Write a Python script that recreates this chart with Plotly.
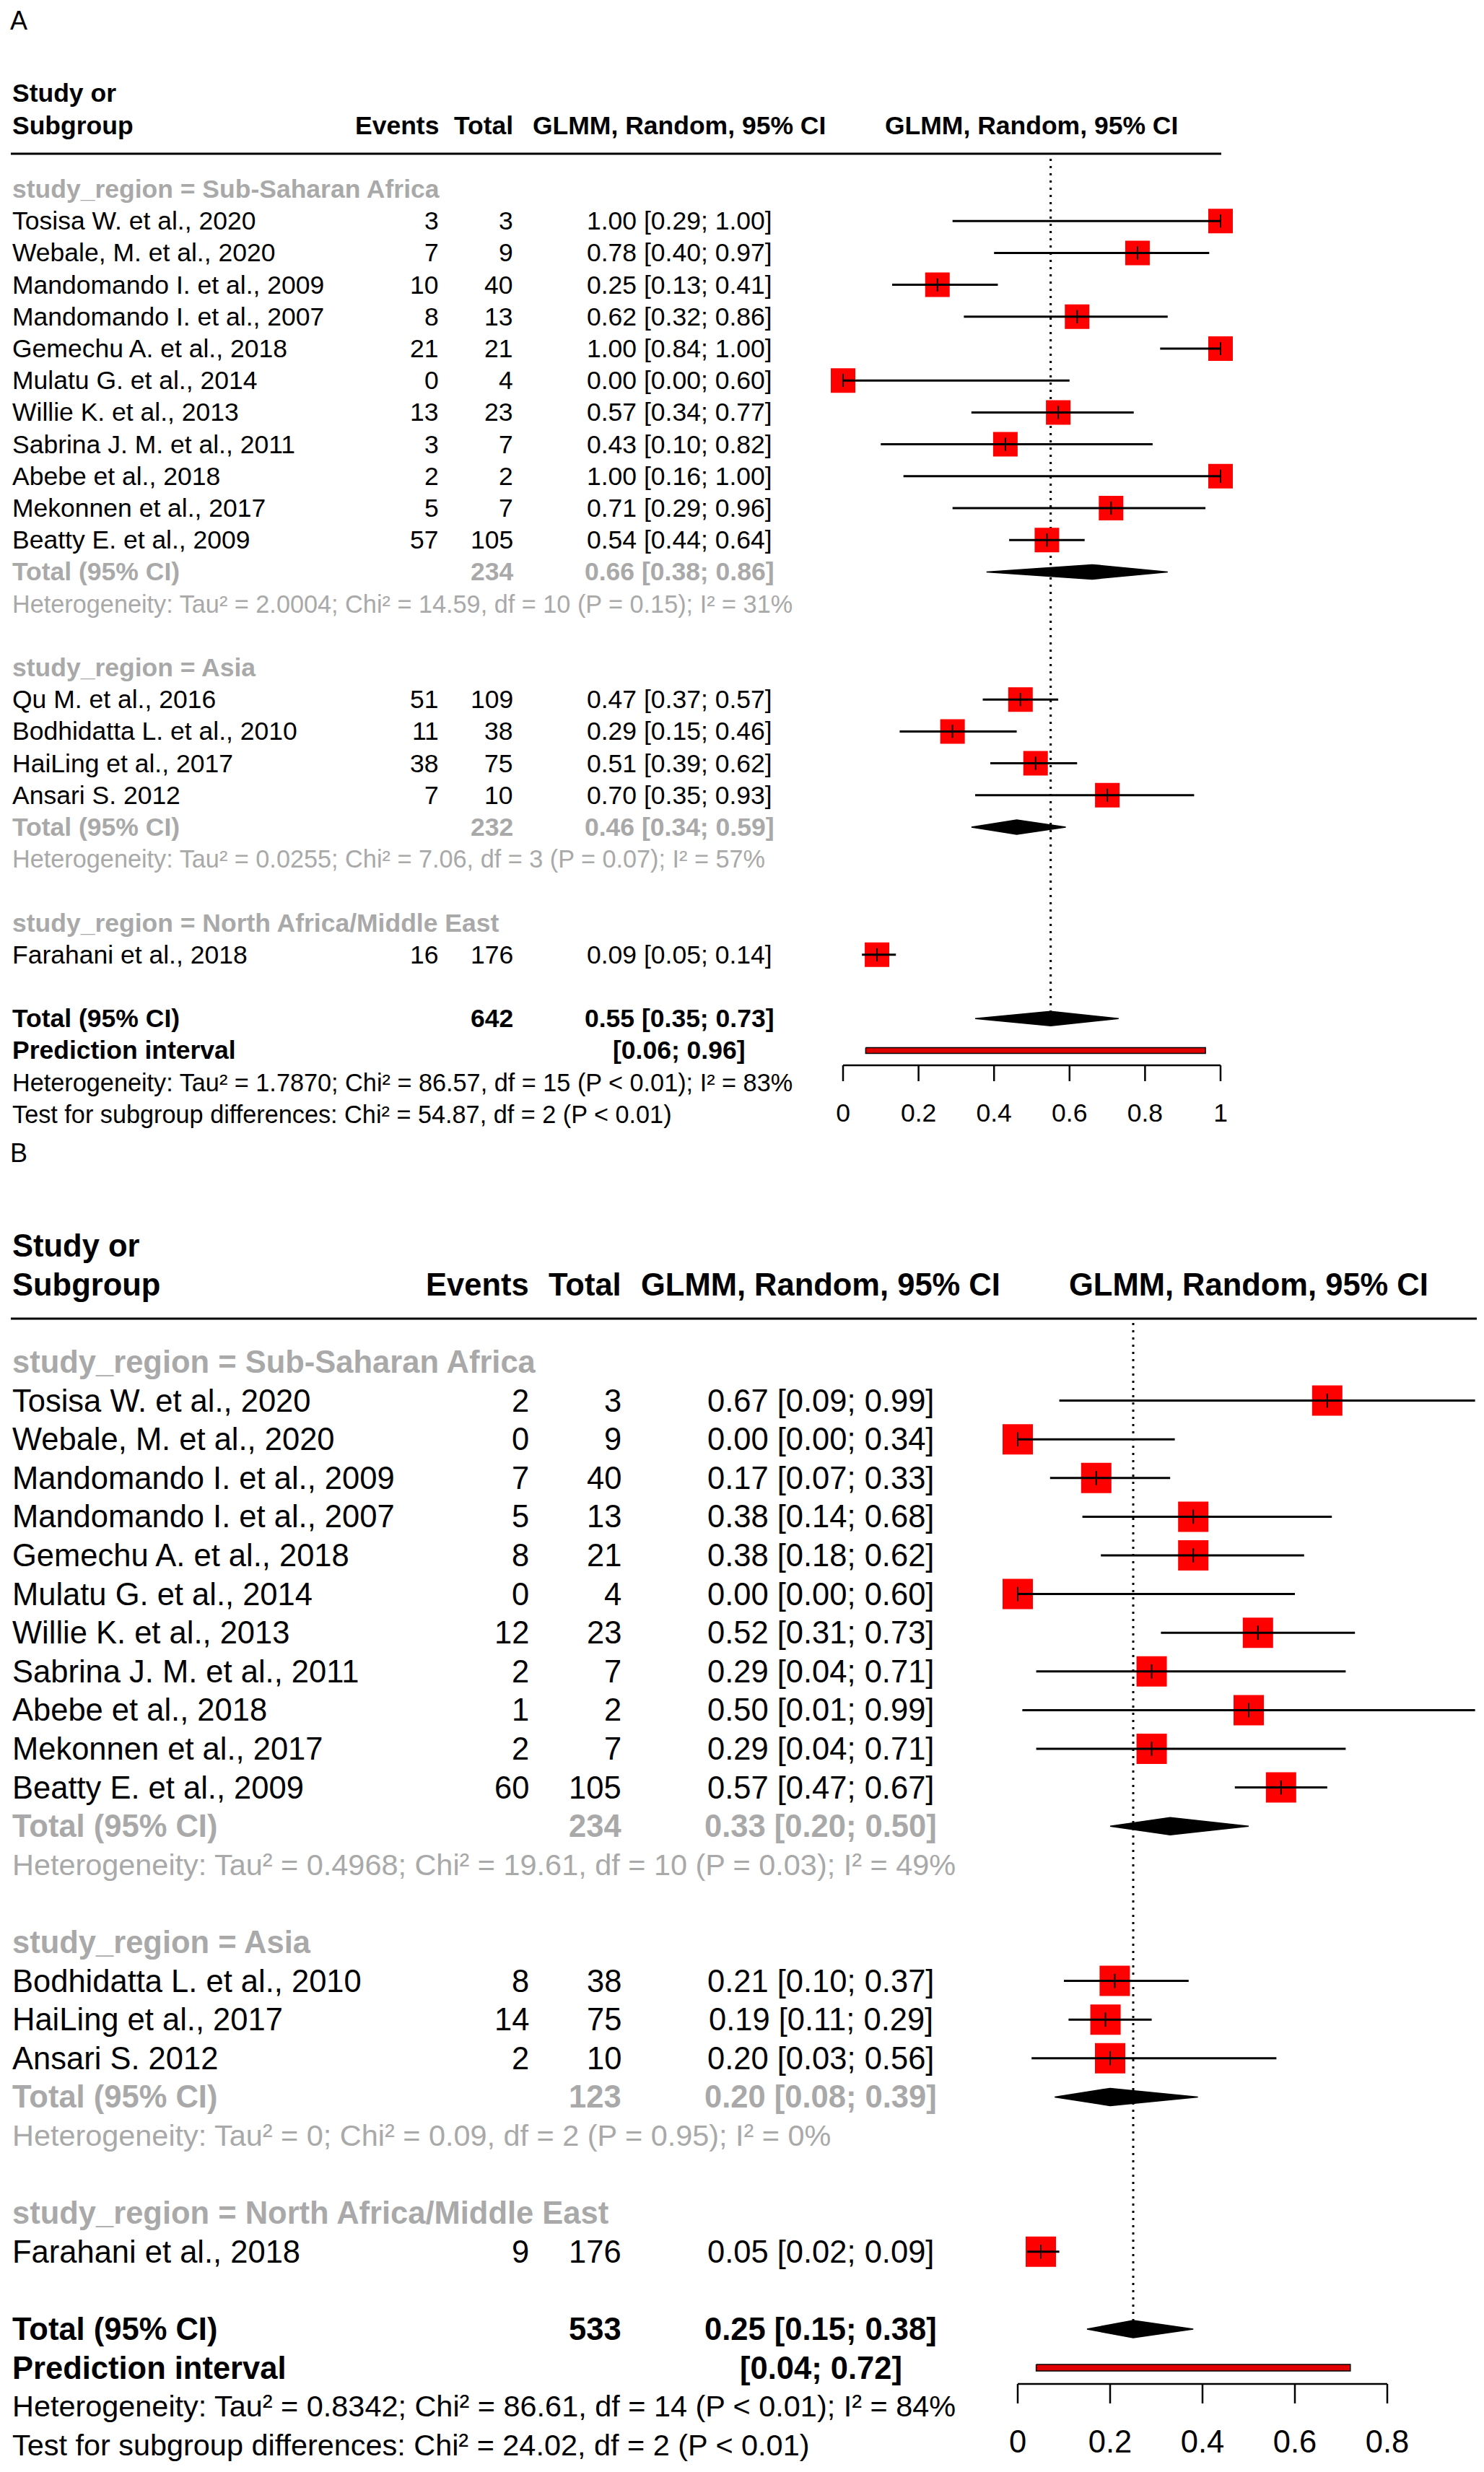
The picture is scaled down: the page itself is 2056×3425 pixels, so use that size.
import plotly.graph_objects as go

W, H = 2056, 3425
FONT = "Liberation Sans, Arial, Helvetica, sans-serif"
BLACK = "#000000"
GREY = "#A9A9A9"
RED = "#FF0000"

# ======================= Panel A data =======================
A_ssa_names = ["Tosisa W. et al., 2020", "Webale, M. et al., 2020", "Mandomando I. et al., 2009",
               "Mandomando I. et al., 2007", "Gemechu A. et al., 2018", "Mulatu G. et al., 2014",
               "Willie K. et al., 2013", "Sabrina J. M. et al., 2011", "Abebe et al., 2018",
               "Mekonnen et al., 2017", "Beatty E. et al., 2009"]
A_ssa_events = [3, 7, 10, 8, 21, 0, 13, 3, 2, 5, 57]
A_ssa_totals = [3, 9, 40, 13, 21, 4, 23, 7, 2, 7, 105]
A_ssa_est = [1.00, 0.78, 0.25, 0.62, 1.00, 0.00, 0.57, 0.43, 1.00, 0.71, 0.54]
A_ssa_lo = [0.29, 0.40, 0.13, 0.32, 0.84, 0.00, 0.34, 0.10, 0.16, 0.29, 0.44]
A_ssa_hi = [1.00, 0.97, 0.41, 0.86, 1.00, 0.60, 0.77, 0.82, 1.00, 0.96, 0.64]

A_asia_names = ["Qu M. et al., 2016", "Bodhidatta L. et al., 2010", "HaiLing et al., 2017", "Ansari S. 2012"]
A_asia_events = [51, 11, 38, 7]
A_asia_totals = [109, 38, 75, 10]
A_asia_est = [0.47, 0.29, 0.51, 0.70]
A_asia_lo = [0.37, 0.15, 0.39, 0.35]
A_asia_hi = [0.57, 0.46, 0.62, 0.93]

A_name_names = ["Farahani et al., 2018"]
A_name_events = [16]
A_name_totals = [176]
A_name_est = [0.09]
A_name_lo = [0.05]
A_name_hi = [0.14]

A_sub_labels = ["Sub-Saharan Africa", "Asia", "North Africa/Middle East"]
A_sub_n = [234, 232, None]
A_sub_est = [0.66, 0.46, None]
A_sub_lo = [0.38, 0.34, None]
A_sub_hi = [0.86, 0.59, None]
A_sub_tau2 = ["2.0004", "0.0255", None]
A_sub_chi2 = ["14.59", "7.06", None]
A_sub_df = [10, 3, None]
A_sub_p = ["= 0.15", "= 0.07", None]
A_sub_i2 = [31, 57, None]

A_total_n = 642
A_total_est, A_total_lo, A_total_hi = 0.55, 0.35, 0.73
A_pred_lo, A_pred_hi = 0.06, 0.96
A_tau2, A_chi2, A_df, A_p, A_i2 = "1.7870", "86.57", 15, "< 0.01", 83
A_test_chi2, A_test_df, A_test_p = "54.87", 2, "< 0.01"
A_ticks = [0, 0.2, 0.4, 0.6, 0.8, 1]
A_ticklabels = ["0", "0.2", "0.4", "0.6", "0.8", "1"]

# ======================= Panel B data =======================
B_ssa_names = ["Tosisa W. et al., 2020", "Webale, M. et al., 2020", "Mandomando I. et al., 2009",
               "Mandomando I. et al., 2007", "Gemechu A. et al., 2018", "Mulatu G. et al., 2014",
               "Willie K. et al., 2013", "Sabrina J. M. et al., 2011", "Abebe et al., 2018",
               "Mekonnen et al., 2017", "Beatty E. et al., 2009"]
B_ssa_events = [2, 0, 7, 5, 8, 0, 12, 2, 1, 2, 60]
B_ssa_totals = [3, 9, 40, 13, 21, 4, 23, 7, 2, 7, 105]
B_ssa_est = [0.67, 0.00, 0.17, 0.38, 0.38, 0.00, 0.52, 0.29, 0.50, 0.29, 0.57]
B_ssa_lo = [0.09, 0.00, 0.07, 0.14, 0.18, 0.00, 0.31, 0.04, 0.01, 0.04, 0.47]
B_ssa_hi = [0.99, 0.34, 0.33, 0.68, 0.62, 0.60, 0.73, 0.71, 0.99, 0.71, 0.67]

B_asia_names = ["Bodhidatta L. et al., 2010", "HaiLing et al., 2017", "Ansari S. 2012"]
B_asia_events = [8, 14, 2]
B_asia_totals = [38, 75, 10]
B_asia_est = [0.21, 0.19, 0.20]
B_asia_lo = [0.10, 0.11, 0.03]
B_asia_hi = [0.37, 0.29, 0.56]

B_name_names = ["Farahani et al., 2018"]
B_name_events = [9]
B_name_totals = [176]
B_name_est = [0.05]
B_name_lo = [0.02]
B_name_hi = [0.09]

B_sub_labels = ["Sub-Saharan Africa", "Asia", "North Africa/Middle East"]
B_sub_n = [234, 123, None]
B_sub_est = [0.33, 0.20, None]
B_sub_lo = [0.20, 0.08, None]
B_sub_hi = [0.50, 0.39, None]
B_sub_tau2 = ["0.4968", "0", None]
B_sub_chi2 = ["19.61", "0.09", None]
B_sub_df = [10, 2, None]
B_sub_p = ["= 0.03", "= 0.95", None]
B_sub_i2 = [49, 0, None]

B_total_n = 533
B_total_est, B_total_lo, B_total_hi = 0.25, 0.15, 0.38
B_pred_lo, B_pred_hi = 0.04, 0.72
B_tau2, B_chi2, B_df, B_p, B_i2 = "0.8342", "86.61", 14, "< 0.01", 84
B_test_chi2, B_test_df, B_test_p = "24.02", 2, "< 0.01"
B_ticks = [0, 0.2, 0.4, 0.6, 0.8]
B_ticklabels = ["0", "0.2", "0.4", "0.6", "0.8"]

# ======================= layout geometry (pixels) =======================
GEO_A = dict(letter="A", xa="x", ya="y", dom=(0, 1580), y0=262, d=44.2, x0=1168, xs=523,
             fs=35.5, stat=0.965, sq=34, tick=13, dia=10, pred=4, axis_px=1476, tickbot_px=1498,
             label_px=1545, name_x=15, ev_r=610, tot_r=713, ci_c=941, h2_c=1429,
             hdr_px=213, hdr_end_px=1692, dot_top_px=220, letter_xy=(12, 28))
GEO_B = dict(letter="B", xa="x2", ya="y2", dom=(1580, 3425), y0=1887, d=53.6, x0=1410, xs=640,
             fs=43.5, stat=0.952, sq=42, tick=14, dia=12, pred=4.5, axis_px=3303, tickbot_px=3330,
             label_px=3387, name_x=15, ev_r=735, tot_r=863, ci_c=1137, h2_c=1730,
             hdr_px=1827, hdr_end_px=2046, dot_top_px=1833, letter_xy=(12, 1598))


def ci_text(e, l, h):
    return f"{e:.2f} [{l:.2f}; {h:.2f}]"


def het_text(tau2, chi2, df, p, i2):
    return (f"Heterogeneity: Tau\u00b2 = {tau2}; Chi\u00b2 = {chi2}, "
            f"df = {df} (P {p}); I\u00b2 = {i2}%")


traces, annotations, shapes = [], [], []


def build_panel(g, groups, sub, overall, ticks, ticklabels):
    xa, ya = g["xa"], g["ya"]
    row_of = lambda p: (p - g["y0"]) / g["d"]
    fs = g["fs"]
    sfs = fs * g["stat"]

    def txt(text, xpx, row, anchor, color=BLACK, bold=False, size=None):
        annotations.append(dict(
            text=text, x=xpx / W, xref="paper", y=row, yref=ya,
            xanchor=anchor, yanchor="middle", showarrow=False,
            font=dict(family=FONT, size=size or fs, color=color,
                      weight=700 if bold else 400)))

    # headers
    lx, ly = g["letter_xy"]
    txt(g["letter"], lx, row_of(ly), "left", size=36)
    txt("Study or", g["name_x"], -3, "left", bold=True)
    txt("Subgroup", g["name_x"], -2, "left", bold=True)
    txt("Events", g["ev_r"], -2, "right", bold=True)
    txt("Total", g["tot_r"], -2, "right", bold=True)
    txt("GLMM, Random, 95% CI", g["ci_c"], -2, "center", bold=True)
    txt("GLMM, Random, 95% CI", g["h2_c"], -2, "center", bold=True)
    shapes.append(dict(type="line", xref="paper", yref=ya, x0=g["name_x"] / W, x1=g["hdr_end_px"] / W,
                       y0=row_of(g["hdr_px"]), y1=row_of(g["hdr_px"]),
                       line=dict(color=BLACK, width=3)))

    sq_x, sq_y, ci_x, ci_y = [], [], [], []
    diamonds = []
    r = 0
    for gi, (names, ev, tot, est, lo, hi) in enumerate(groups):
        txt(f"study_region = {sub['labels'][gi]}", g["name_x"], r, "left", color=GREY, bold=True)
        r += 1
        for k in range(len(names)):
            txt(names[k], g["name_x"], r, "left")
            txt(str(ev[k]), g["ev_r"], r, "right")
            txt(str(tot[k]), g["tot_r"], r, "right")
            txt(ci_text(est[k], lo[k], hi[k]), g["ci_c"], r, "center")
            sq_x.append(est[k]); sq_y.append(r)
            ci_x += [lo[k], hi[k], None]; ci_y += [r, r, None]
            r += 1
        if sub["n"][gi] is not None:
            txt("Total (95% CI)", g["name_x"], r, "left", color=GREY, bold=True)
            txt(str(sub["n"][gi]), g["tot_r"], r, "right", color=GREY, bold=True)
            txt(ci_text(sub["est"][gi], sub["lo"][gi], sub["hi"][gi]), g["ci_c"], r, "center",
                color=GREY, bold=True)
            diamonds.append((sub["est"][gi], sub["lo"][gi], sub["hi"][gi], r))
            r += 1
            txt(het_text(sub["tau2"][gi], sub["chi2"][gi], sub["df"][gi], sub["p"][gi], sub["i2"][gi]),
                g["name_x"], r, "left", color=GREY, size=sfs)
            r += 1
        r += 1
    # overall
    tot_row = r
    txt("Total (95% CI)", g["name_x"], r, "left", bold=True)
    txt(str(overall["n"]), g["tot_r"], r, "right", bold=True)
    txt(ci_text(overall["est"], overall["lo"], overall["hi"]), g["ci_c"], r, "center", bold=True)
    diamonds.append((overall["est"], overall["lo"], overall["hi"], r))
    r += 1
    pred_row = r
    txt("Prediction interval", g["name_x"], r, "left", bold=True)
    txt(f"[{overall['plo']:.2f}; {overall['phi']:.2f}]", g["ci_c"], r, "center", bold=True)
    r += 1
    txt(het_text(overall["tau2"], overall["chi2"], overall["df"], overall["p"], overall["i2"]),
        g["name_x"], r, "left", size=sfs)
    r += 1
    txt(f"Test for subgroup differences: Chi\u00b2 = {overall['tchi2']}, df = {overall['tdf']} "
        f"(P {overall['tp']})", g["name_x"], r, "left", size=sfs)

    dh = g["dia"] / g["d"]
    # dotted reference line at overall estimate
    traces.append(go.Scatter(x=[overall["est"], overall["est"]],
                             y=[row_of(g["dot_top_px"]), tot_row - dh],
                             mode="lines", line=dict(color=BLACK, width=3, dash="3px,7px"),
                             xaxis=xa, yaxis=ya, hoverinfo="skip"))
    # squares
    traces.append(go.Scatter(x=sq_x, y=sq_y, mode="markers", cliponaxis=False,
                             marker=dict(symbol="square", size=g["sq"], color=RED, line=dict(width=0)),
                             xaxis=xa, yaxis=ya, hoverinfo="skip"))
    # CI lines
    traces.append(go.Scatter(x=ci_x, y=ci_y, mode="lines", line=dict(color=BLACK, width=3),
                             xaxis=xa, yaxis=ya, hoverinfo="skip", connectgaps=False))
    # estimate ticks
    traces.append(go.Scatter(x=sq_x, y=sq_y, mode="markers", cliponaxis=False,
                             marker=dict(symbol="line-ns", size=g["tick"],
                                         line=dict(color=BLACK, width=2)),
                             xaxis=xa, yaxis=ya, hoverinfo="skip"))
    # diamonds
    for (e, lo, hi, rr) in diamonds:
        traces.append(go.Scatter(x=[lo, e, hi, e, lo], y=[rr, rr - dh, rr, rr + dh, rr],
                                 mode="lines", fill="toself", fillcolor=BLACK,
                                 line=dict(color=BLACK, width=1.5),
                                 xaxis=xa, yaxis=ya, hoverinfo="skip"))
    # prediction interval bar
    ph = g["pred"] / g["d"]
    plo, phi = overall["plo"], overall["phi"]
    traces.append(go.Scatter(x=[plo, phi, phi, plo, plo],
                             y=[pred_row - ph, pred_row - ph, pred_row + ph, pred_row + ph, pred_row - ph],
                             mode="lines", fill="toself", fillcolor="#E00000",
                             line=dict(color=BLACK, width=1.5),
                             xaxis=xa, yaxis=ya, hoverinfo="skip"))
    # x axis (line, ticks, labels)
    ar, tb, lr = row_of(g["axis_px"]), row_of(g["tickbot_px"]), row_of(g["label_px"])
    traces.append(go.Scatter(x=[ticks[0], ticks[-1]], y=[ar, ar], mode="lines",
                             line=dict(color=BLACK, width=2.5),
                             xaxis=xa, yaxis=ya, hoverinfo="skip"))
    tx, ty = [], []
    for t in ticks:
        tx += [t, t, None]; ty += [ar, tb, None]
    traces.append(go.Scatter(x=tx, y=ty, mode="lines", line=dict(color=BLACK, width=2.5),
                             xaxis=xa, yaxis=ya, hoverinfo="skip"))
    traces.append(go.Scatter(x=ticks, y=[lr] * len(ticks), mode="text", text=ticklabels,
                             textposition="middle center", cliponaxis=False,
                             textfont=dict(family=FONT, size=fs, color=BLACK),
                             xaxis=xa, yaxis=ya, hoverinfo="skip"))


def axes_for(g):
    p_top, p_bot = g["dom"]
    xr = [(0 - g["x0"]) / g["xs"], (W - g["x0"]) / g["xs"]]
    yr = [(p_bot - g["y0"]) / g["d"], (p_top - g["y0"]) / g["d"]]
    xdom = [0, 1]
    ydom = [1 - p_bot / H, 1 - p_top / H]
    return xr, yr, xdom, ydom


build_panel(GEO_A,
            [(A_ssa_names, A_ssa_events, A_ssa_totals, A_ssa_est, A_ssa_lo, A_ssa_hi),
             (A_asia_names, A_asia_events, A_asia_totals, A_asia_est, A_asia_lo, A_asia_hi),
             (A_name_names, A_name_events, A_name_totals, A_name_est, A_name_lo, A_name_hi)],
            dict(labels=A_sub_labels, n=A_sub_n, est=A_sub_est, lo=A_sub_lo, hi=A_sub_hi,
                 tau2=A_sub_tau2, chi2=A_sub_chi2, df=A_sub_df, p=A_sub_p, i2=A_sub_i2),
            dict(n=A_total_n, est=A_total_est, lo=A_total_lo, hi=A_total_hi, plo=A_pred_lo,
                 phi=A_pred_hi, tau2=A_tau2, chi2=A_chi2, df=A_df, p=A_p, i2=A_i2,
                 tchi2=A_test_chi2, tdf=A_test_df, tp=A_test_p),
            A_ticks, A_ticklabels)

build_panel(GEO_B,
            [(B_ssa_names, B_ssa_events, B_ssa_totals, B_ssa_est, B_ssa_lo, B_ssa_hi),
             (B_asia_names, B_asia_events, B_asia_totals, B_asia_est, B_asia_lo, B_asia_hi),
             (B_name_names, B_name_events, B_name_totals, B_name_est, B_name_lo, B_name_hi)],
            dict(labels=B_sub_labels, n=B_sub_n, est=B_sub_est, lo=B_sub_lo, hi=B_sub_hi,
                 tau2=B_sub_tau2, chi2=B_sub_chi2, df=B_sub_df, p=B_sub_p, i2=B_sub_i2),
            dict(n=B_total_n, est=B_total_est, lo=B_total_lo, hi=B_total_hi, plo=B_pred_lo,
                 phi=B_pred_hi, tau2=B_tau2, chi2=B_chi2, df=B_df, p=B_p, i2=B_i2,
                 tchi2=B_test_chi2, tdf=B_test_df, tp=B_test_p),
            B_ticks, B_ticklabels)

fig = go.Figure(data=traces)
xrA, yrA, xdA, ydA = axes_for(GEO_A)
xrB, yrB, xdB, ydB = axes_for(GEO_B)
hidden = dict(visible=False, showgrid=False, zeroline=False, fixedrange=True)
fig.update_layout(
    width=W, height=H, autosize=False,
    margin=dict(l=0, r=0, t=0, b=0, pad=0),
    paper_bgcolor="white", plot_bgcolor="white",
    showlegend=False,
    xaxis=dict(domain=xdA, range=xrA, anchor="y", **hidden),
    yaxis=dict(domain=ydA, range=yrA, anchor="x", **hidden),
    xaxis2=dict(domain=xdB, range=xrB, anchor="y2", **hidden),
    yaxis2=dict(domain=ydB, range=yrB, anchor="x2", **hidden),
    annotations=annotations,
    shapes=shapes,
    font=dict(family=FONT, color=BLACK),
)

fig.write_html("out.html", config={"displayModeBar": False},
               post_script="document.body.style.margin='0';")
